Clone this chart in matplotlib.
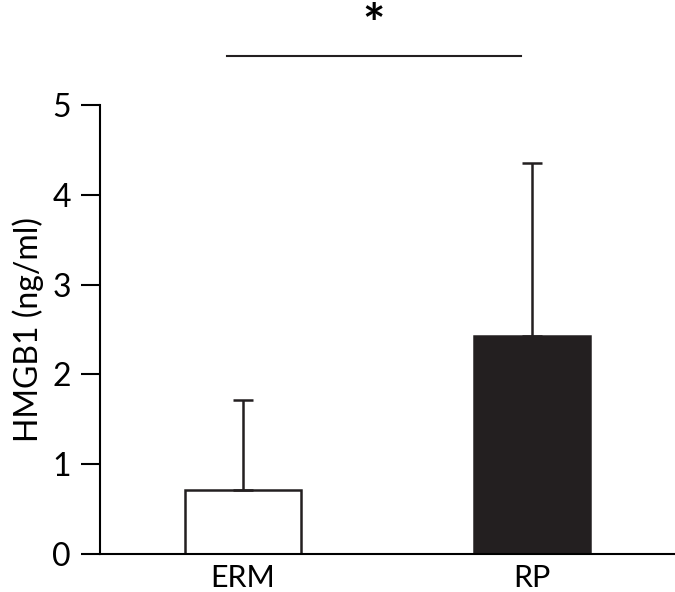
import matplotlib
matplotlib.use('Agg')
import matplotlib.pyplot as plt

groups = ['ERM', 'RP']
means = [0.71, 2.43]
sd_upper = [1.00, 1.92]
bar_colors = ['white', '#231f20']

sig_pair = (0, 1)
sig_label = '*'

plt.rcParams['font.family'] = ['Lato', 'DejaVu Sans']

fig = plt.figure(figsize=(6.75, 5.92), dpi=100)
ax = fig.add_axes([100/675, 1-554/592, 575/675, 449/592])

x = range(len(groups))
ax.bar(x, means, width=0.4, color=bar_colors, edgecolor='#231f20', linewidth=1.8,
       yerr=[[0]*len(means), sd_upper], capsize=7.5,
       error_kw=dict(elinewidth=1.8, capthick=1.8, ecolor='#231f20'))

ax.set_xlim(-0.495, 1.495)
ax.set_ylim(0, 5)
ax.set_yticks([0, 1, 2, 3, 4, 5])
ax.set_xticks(list(x))
ax.set_xticklabels(groups, fontsize=22)
ax.tick_params(axis='y', length=14, width=1.5, labelsize=23, pad=7)
ax.tick_params(axis='x', length=0, pad=7)
ax.set_ylabel('HMGB1 (ng/ml)', fontsize=23, labelpad=6)

for s in ['top', 'right']:
    ax.spines[s].set_visible(False)
ax.spines['left'].set_linewidth(1.5)
ax.spines['bottom'].set_linewidth(1.5)

# significance bar
ax.plot([sig_pair[0] - 0.055, sig_pair[1] - 0.038], [5.55, 5.55], color='#231f20',
        lw=1.5, clip_on=False)
ax.text(0.45, 5.86, sig_label, ha='center', va='center', fontsize=38,
        fontweight='bold', clip_on=False)

fig.savefig('out.png', dpi=100)
